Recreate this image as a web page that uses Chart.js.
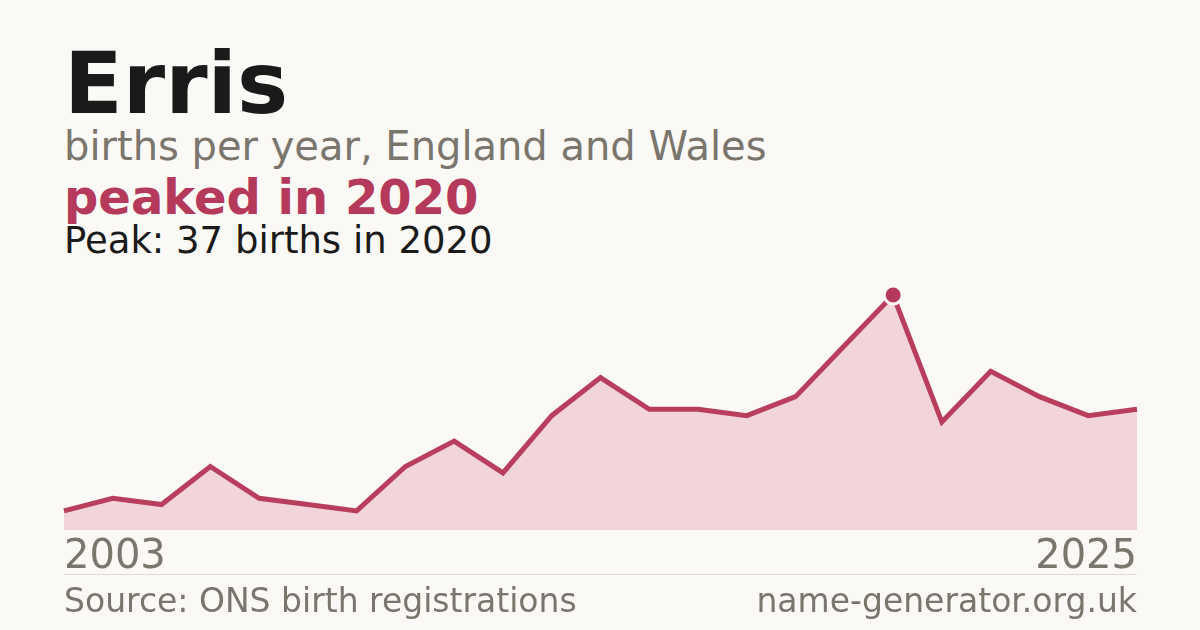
<!DOCTYPE html>
<html>
<head>
<meta charset="utf-8">
<script src="https://cdn.jsdelivr.net/npm/chart.js@4/dist/chart.umd.min.js"></script>
<style>
	html, body { margin: 0; padding: 0; }
	body { width: 1200px; height: 630px; background: #faf9f5; position: relative; overflow: hidden; font-family: "DejaVu Sans", sans-serif; }
	.txt { position: absolute; left: 64px; line-height: 1; white-space: nowrap; }
	.name { top: 40px; font-size: 86px; font-weight: bold; color: #1a1a1a; }
	.sub { top: 126px; font-size: 40px; color: #7a756d; }
	.trend { top: 173px; font-size: 48px; font-weight: bold; color: #b5395a; }
	.peak { top: 222px; font-size: 37px; color: #1a1a1a; }
	.foot { top: 584px; font-size: 33px; color: #7a756d; }
	.foot.right { left: auto; right: 63px; }
	.rule { position: absolute; left: 64px; top: 574px; width: 1073px; height: 1px; background: #dfdcd4; }
	#wrap { position: absolute; left: 0; top: 280px; width: 1200px; height: 306px; }
</style>
</head>
<body>
<div class="txt name">Erris</div>
<div class="txt sub">births per year, England and Wales</div>
<div class="txt trend">peaked in 2020</div>
<div class="txt peak">Peak: 37 births in 2020</div>
<div id="wrap"><canvas id="chart"></canvas></div>
<div class="rule"></div>
<div class="txt foot">Source: ONS birth registrations</div>
<div class="txt foot right">name-generator.org.uk</div>

<script>
var years = ['2003', '2004', '2005', '2006', '2007', '2008', '2009', '2010', '2011', '2012', '2013', '2014',
	'2015', '2016', '2017', '2018', '2019', '2020', '2021', '2022', '2023', '2024', '2025'];
var births = [3, 5, 4, 10, 5, 4, 3, 10, 14, 9, 18, 24, 19, 19, 18, 21, 29, 37, 17, 25, 21, 18, 19];
var tickLabels = ['2003', '2025'];

// only the peak year gets a marker
var peakIndex = births.indexOf(Math.max.apply(null, births));
var radii = births.map(function (v, i) { return i === peakIndex ? 9 : 0; });

new Chart(document.getElementById('chart'), {
	type: 'line',
	data: {
		labels: years,
		datasets: [{
			data: births,
			borderColor: '#b93e5e',
			borderWidth: 5,
			backgroundColor: '#f1d5db',
			fill: 'origin',
			tension: 0,
			clip: false,
			pointRadius: radii,
			pointHoverRadius: radii,
			pointBackgroundColor: '#b5395a',
			pointBorderColor: '#faf9f5',
			pointBorderWidth: 3
		}]
	},
	options: {
		responsive: true,
		maintainAspectRatio: false,
		animation: false,
		layout: { padding: { left: 64, right: 63, top: 15, bottom: 0 } },
		plugins: { legend: { display: false }, tooltip: { enabled: false } },
		scales: {
			x: {
				grid: { display: false, drawTicks: false },
				border: { display: false },
				ticks: {
					autoSkip: false,
					maxRotation: 0,
					align: 'inner',
					padding: 4,
					color: '#7a756d',
					font: { family: 'DejaVu Sans', size: 40 },
					callback: function (value, index) {
						var label = this.getLabelForValue(value);
						return tickLabels.indexOf(label) !== -1 ? label : '';
					}
				}
			},
			y: {
				display: false,
				min: 0,
				max: 37
			}
		}
	}
});
</script>
</body>
</html>
